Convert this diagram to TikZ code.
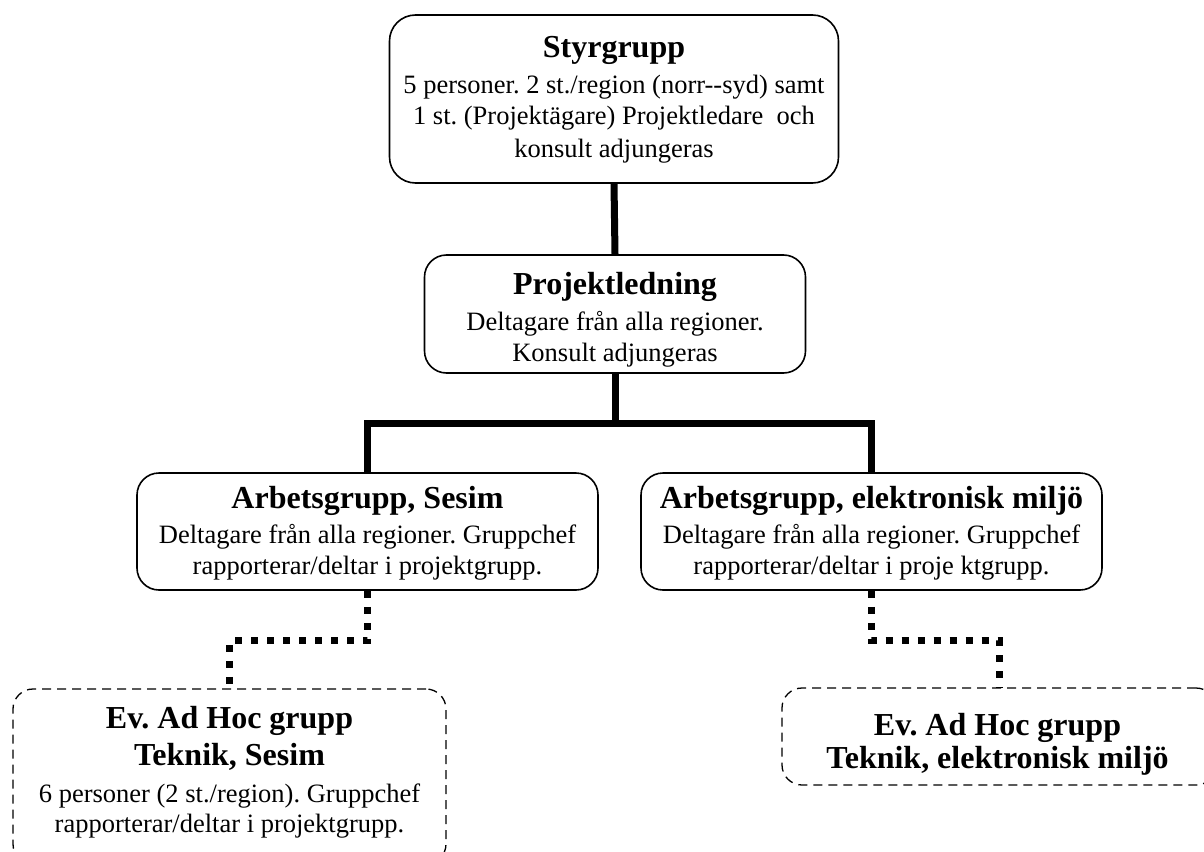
\documentclass[tikz,border=0pt]{standalone}
\usepackage{fontspec}
\setmainfont{Liberation Serif}
\frenchspacing
\begin{document}
\begin{tikzpicture}[x=1pt,y=-1pt,
  box/.style={draw, line width=1.6pt, rounded corners=22pt, inner sep=0pt},
  adhoc/.style={box, line width=1.3pt, dash pattern=on 9pt off 6pt, rounded corners=20pt},
  txt/.style={align=center, inner sep=0pt, font=\fontsize{26.5}{30.5}\selectfont},
  thick connector/.style={line width=7pt},
  dotline/.style={line width=7pt, dash pattern=on 7pt off 9pt}]
\useasboundingbox (0,0) rectangle (1204,851);
\newcommand{\ttlfont}{\fontsize{32}{36}\selectfont\bfseries}
% boxes
\node[box, minimum width=449pt, minimum height=168pt, rounded corners=26pt] (sty) at (614,99) {};
\node[box, minimum width=381pt, minimum height=118pt] (pl) at (615,314) {};
\node[box, minimum width=461pt, minimum height=117pt] (ags) at (367.5,531.5) {};
\node[box, minimum width=461pt, minimum height=117pt] (age) at (871.5,531.5) {};
\node[adhoc, minimum width=433pt, minimum height=175pt] (ahs) at (229.5,776.5) {};
\node[adhoc, minimum width=434pt, minimum height=97pt] (ahe) at (999,736.5) {};
% texts
\node[txt] (styt) at (614,100)
  {{\ttlfont Styrgrupp}\\[6pt]5 personer. 2 st./region (norr-{}-syd) samt\\1 st. (Projektägare) Projektledare~ och\\[3pt]konsult adjungeras};
\node[txt] (plt) at (615,319.5)
  {{\ttlfont Projektledning}\\[6pt]Deltagare från alla regioner.\\Konsult adjungeras};
\node[txt] (agst) at (367.5,533)
  {{\ttlfont Arbetsgrupp, Sesim}\\[5pt]Deltagare från alla regioner. Gruppchef\\rapporterar/deltar i projektgrupp.};
\node[txt] (aget) at (871.5,533)
  {{\ttlfont Arbetsgrupp, elektronisk miljö}\\[5pt]Deltagare från alla regioner. Gruppchef\\rapporterar/deltar i proje ktgrupp.};
\node[txt] (ahst) at (229.5,772)
  {{\ttlfont Ev. Ad Hoc grupp}\\[7pt]{\ttlfont Teknik, Sesim}\\[6pt]6 personer (2 st./region). Gruppchef\\rapporterar/deltar i projektgrupp.};
\node[txt] (ahet) at (997.5,744.5)
  {{\ttlfont Ev. Ad Hoc grupp}\\[3pt]{\ttlfont Teknik, elektronisk miljö}};
% connectors
\draw[thick connector] (sty.south) -- (pl.north);
\draw[thick connector] (pl.south) -- ++(0,50) coordinate (j) -| (ags.north);
\draw[thick connector] (j) -| (age.north);
\draw[dotline] (ags.south) -- ++(0,50) -| (ahs.north);
\draw[dotline] (age.south) -- ++(0,50) -| (ahe.north);
\end{tikzpicture}
\end{document}
